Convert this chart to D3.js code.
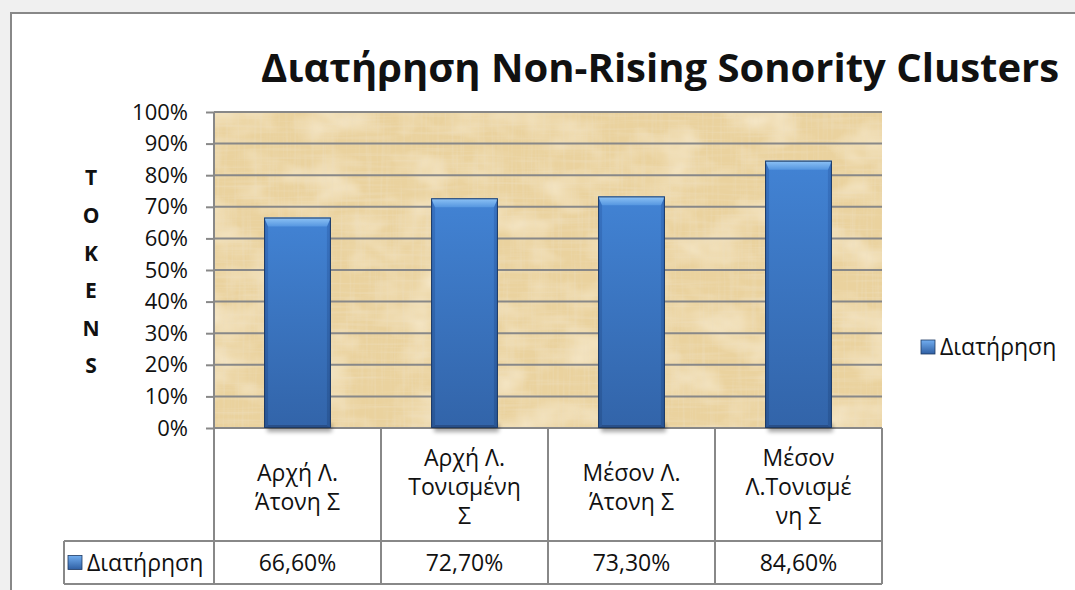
<!DOCTYPE html>
<html>
<head>
<meta charset="utf-8">
<script src="https://cdn.jsdelivr.net/npm/d3@7"></script>
<style>
html, body { margin: 0; padding: 0; background: #fff; overflow: hidden; }
svg { display: block; font-family: "Open Sans", sans-serif; }
</style>
</head>
<body>
<div id="chart"></div>
<script>
var title = "Διατήρηση Non-Rising Sonority Clusters";
var yTitle = ["T", "O", "K", "E", "N", "S"];
var seriesName = "Διατήρηση";
var categories = ["Αρχή Λ. Άτονη Σ", "Αρχή Λ. Τονισμένη Σ", "Μέσον Λ. Άτονη Σ", "Μέσον Λ.Τονισμένη Σ"];
var categoryLines = [["Αρχή Λ.", "Άτονη Σ"], ["Αρχή Λ.", "Τονισμένη", "Σ"], ["Μέσον Λ.", "Άτονη Σ"], ["Μέσον", "Λ.Τονισμέ", "νη Σ"]];
var values = [0.666, 0.727, 0.733, 0.846];
var yTicks = [0, 0.1, 0.2, 0.3, 0.4, 0.5, 0.6, 0.7, 0.8, 0.9, 1];

var width = 1075, height = 590;
var plot = {left: 214, right: 882, top: 112, bottom: 428};
var rowTop = 541, rowBottom = 584, keyLeft = 64;
var lineCol = "#888888";
var fs = 23;

var greek = d3.formatLocale({decimal: ",", thousands: ".", grouping: [3], currency: ["", "€"]});
var pct = greek.format(".2%");

var x = d3.scaleBand().domain(categories).range([plot.left, plot.right])
	.paddingInner(0.6).paddingOuter(0.3);
var y = d3.scaleLinear().domain([0, 1]).range([plot.bottom, plot.top]);

var svg = d3.select("#chart").append("svg")
	.attr("width", width)
	.attr("height", height);

var defs = svg.append("defs");

// papyrus texture
var paper = defs.append("filter").attr("id", "paper")
	.attr("x", 0).attr("y", 0).attr("width", "100%").attr("height", "100%");
paper.append("feTurbulence").attr("type", "fractalNoise")
	.attr("baseFrequency", "0.02 0.03").attr("numOctaves", 3).attr("seed", 3).attr("result", "m");
paper.append("feColorMatrix").attr("in", "m").attr("type", "matrix")
	.attr("values", "0 0 0 0 0.97  0 0 0 0 0.90  0 0 0 0 0.75  1.3 0 0 0 -0.55").attr("result", "ml");
paper.append("feTurbulence").attr("type", "fractalNoise")
	.attr("baseFrequency", "0.35 0.015").attr("numOctaves", 2).attr("seed", 8).attr("result", "v");
paper.append("feColorMatrix").attr("in", "v").attr("type", "matrix")
	.attr("values", "0 0 0 0 0.84  0 0 0 0 0.72  0 0 0 0 0.50  1.1 0 0 0 -0.52").attr("result", "vd");
paper.append("feTurbulence").attr("type", "fractalNoise")
	.attr("baseFrequency", "0.015 0.35").attr("numOctaves", 2).attr("seed", 5).attr("result", "h");
paper.append("feColorMatrix").attr("in", "h").attr("type", "matrix")
	.attr("values", "0 0 0 0 0.86  0 0 0 0 0.74  0 0 0 0 0.52  1.1 0 0 0 -0.52").attr("result", "hd");
var merge = paper.append("feMerge");
merge.append("feMergeNode").attr("in", "ml");
merge.append("feMergeNode").attr("in", "vd");
merge.append("feMergeNode").attr("in", "hd");

defs.append("filter").attr("id", "blur")
	.attr("x", "-20%").attr("y", "-100%").attr("width", "140%").attr("height", "300%")
	.append("feGaussianBlur").attr("stdDeviation", 2);

function gradient(id, x2, y2, stops) {
	var g = defs.append("linearGradient").attr("id", id)
		.attr("x1", 0).attr("y1", 0).attr("x2", x2).attr("y2", y2);
	stops.forEach(function(s) {
		g.append("stop").attr("offset", s[0]).attr("stop-color", s[1]);
	});
}
gradient("body", 0, 1, [[0, "#4283d4"], [1, "#3264a9"]]);
gradient("top", 0, 1, [[0, "#8fc4f6"], [1, "#5596e0"]]);
gradient("side", 0, 1, [[0, "#3873c2"], [1, "#2a5796"]]);
gradient("key", 0, 1, [[0, "#72aef0"], [1, "#2f5fa3"]]);

// page frame: grey margin at top and left, border on those two edges
svg.append("rect").attr("width", width).attr("height", height).attr("fill", "#f0f0f0");
svg.append("rect").attr("x", 10).attr("y", 12)
	.attr("width", width).attr("height", height)
	.attr("fill", "#fff");
svg.append("path").attr("d", "M11," + height + "V13H" + width)
	.attr("fill", "none").attr("stroke", "#888").attr("stroke-width", 2);

// plot area
svg.append("rect").attr("x", plot.left).attr("y", plot.top)
	.attr("width", plot.right - plot.left).attr("height", plot.bottom - plot.top)
	.attr("fill", "#ead29e");
svg.append("rect").attr("x", plot.left).attr("y", plot.top)
	.attr("width", plot.right - plot.left).attr("height", plot.bottom - plot.top)
	.attr("fill", "#fff").attr("filter", "url(#paper)");

// gridlines
svg.append("g").selectAll("line")
	.data(yTicks)
	.enter().append("line")
	.attr("x1", plot.left).attr("x2", plot.right)
	.attr("y1", function(d) { return y(d); })
	.attr("y2", function(d) { return y(d); })
	.attr("stroke", lineCol).attr("stroke-width", 2);

// y axis
var yAxis = d3.axisLeft(y).tickValues(yTicks)
	.tickFormat(d3.format(".0%")).tickSize(8).tickPadding(18);
var gy = svg.append("g")
	.attr("transform", "translate(" + plot.left + ",0)")
	.call(yAxis);
gy.select(".domain").remove();
gy.selectAll(".tick line").attr("stroke", lineCol).attr("stroke-width", 2);
gy.selectAll(".tick text")
	.attr("font-family", "Open Sans").attr("font-size", 22).attr("fill", "#111");

// axis title, one letter per line
svg.append("g").selectAll("text")
	.data(yTitle)
	.enter().append("text")
	.attr("x", 91)
	.attr("y", function(d, i) { return 178 + i * 37.6; })
	.attr("dy", "0.35em")
	.attr("text-anchor", "middle")
	.attr("font-size", 21).attr("font-weight", "bold").attr("fill", "#111")
	.text(function(d) { return d; });

// bars
var bars = svg.append("g").selectAll("g")
	.data(values)
	.enter().append("g");

bars.append("rect")
	.attr("x", function(d, i) { return x(categories[i]) + 3; })
	.attr("y", plot.bottom - 4)
	.attr("width", x.bandwidth() - 2)
	.attr("height", 8)
	.attr("fill", "#000").attr("opacity", 0.35)
	.attr("filter", "url(#blur)");

bars.append("rect")
	.attr("x", function(d, i) { return x(categories[i]); })
	.attr("y", function(d) { return y(d); })
	.attr("width", x.bandwidth())
	.attr("height", function(d) { return y(0) - y(d); })
	.attr("fill", "url(#body)");

function bevel(d, i, which) {
	var x0 = x(categories[i]), x1 = x0 + x.bandwidth();
	var y0 = y(d), y1 = y(0), t = 9, s = 4, b = 3;
	var p;
	if (which == "top") p = [[x0, y0], [x1, y0], [x1 - s, y0 + t], [x0 + s, y0 + t]];
	if (which == "left") p = [[x0, y0], [x0 + s, y0 + t], [x0 + s, y1 - b], [x0, y1]];
	if (which == "right") p = [[x1, y0], [x1 - s, y0 + t], [x1 - s, y1 - b], [x1, y1]];
	if (which == "bottom") p = [[x0, y1], [x0 + s, y1 - b], [x1 - s, y1 - b], [x1, y1]];
	return "M" + p.join("L") + "Z";
}

bars.append("path").attr("d", function(d, i) { return bevel(d, i, "left"); }).attr("fill", "url(#side)");
bars.append("path").attr("d", function(d, i) { return bevel(d, i, "right"); }).attr("fill", "url(#side)");
bars.append("path").attr("d", function(d, i) { return bevel(d, i, "bottom"); }).attr("fill", "#294f88");
bars.append("path").attr("d", function(d, i) { return bevel(d, i, "top"); }).attr("fill", "url(#top)");

bars.append("rect")
	.attr("x", function(d, i) { return x(categories[i]) + 0.5; })
	.attr("y", function(d) { return y(d) + 0.5; })
	.attr("width", x.bandwidth() - 1)
	.attr("height", function(d) { return y(0) - y(d) - 1; })
	.attr("fill", "none").attr("stroke", "#1e3a63").attr("stroke-width", 1);

// data table
var table = svg.append("g").attr("stroke", lineCol).attr("stroke-width", 2);
table.selectAll(".col")
	.data(d3.range(categories.length + 1))
	.enter().append("line")
	.attr("x1", function(d) { return plot.left + d * x.step(); })
	.attr("x2", function(d) { return plot.left + d * x.step(); })
	.attr("y1", function(d) { return d == 0 ? plot.top : plot.bottom; })
	.attr("y2", rowBottom);
table.selectAll(".row")
	.data([rowTop, rowBottom])
	.enter().append("line")
	.attr("x1", keyLeft).attr("x2", plot.right)
	.attr("y1", function(d) { return d; })
	.attr("y2", function(d) { return d; });
table.append("line")
	.attr("x1", keyLeft).attr("x2", keyLeft)
	.attr("y1", rowTop).attr("y2", rowBottom);

var labels = svg.append("g").selectAll("text")
	.data(categoryLines)
	.enter().append("text")
	.attr("text-anchor", "middle")
	.attr("font-size", fs).attr("fill", "#111")
	.attr("transform", function(d, i) {
		return "translate(" + (x(categories[i]) + x.bandwidth() / 2) + "," + (487 - (d.length - 1) * 14.5) + ")";
	});
labels.selectAll("tspan")
	.data(function(d) { return d; })
	.enter().append("tspan")
	.attr("x", 0)
	.attr("y", function(d, i) { return i * 29; })
	.attr("dy", "0.35em")
	.text(function(d) { return d; });

svg.append("g").selectAll("text")
	.data(values)
	.enter().append("text")
	.attr("x", function(d, i) { return x(categories[i]) + x.bandwidth() / 2; })
	.attr("y", (rowTop + rowBottom) / 2)
	.attr("dy", "0.35em")
	.attr("text-anchor", "middle")
	.attr("font-size", fs).attr("fill", "#111")
	.text(function(d) { return pct(d); });

// series key in table and legend
function key(g, kx, ky) {
	g.append("rect").attr("x", kx).attr("y", ky - 7)
		.attr("width", 14).attr("height", 14)
		.attr("fill", "url(#key)").attr("stroke", "#1e3a63").attr("stroke-width", 0.8);
	g.append("text").attr("x", kx + 19).attr("y", ky)
		.attr("dy", "0.35em")
		.attr("font-size", fs).attr("fill", "#111")
		.text(seriesName);
}
key(svg.append("g"), keyLeft + 4, (rowTop + rowBottom) / 2);
key(svg.append("g"), 921, 347);

// title
svg.append("text")
	.attr("x", 660).attr("y", 82)
	.attr("text-anchor", "middle")
	.attr("font-size", 40).attr("font-weight", "bold").attr("fill", "#111")
	.text(title);
</script>
</body>
</html>
